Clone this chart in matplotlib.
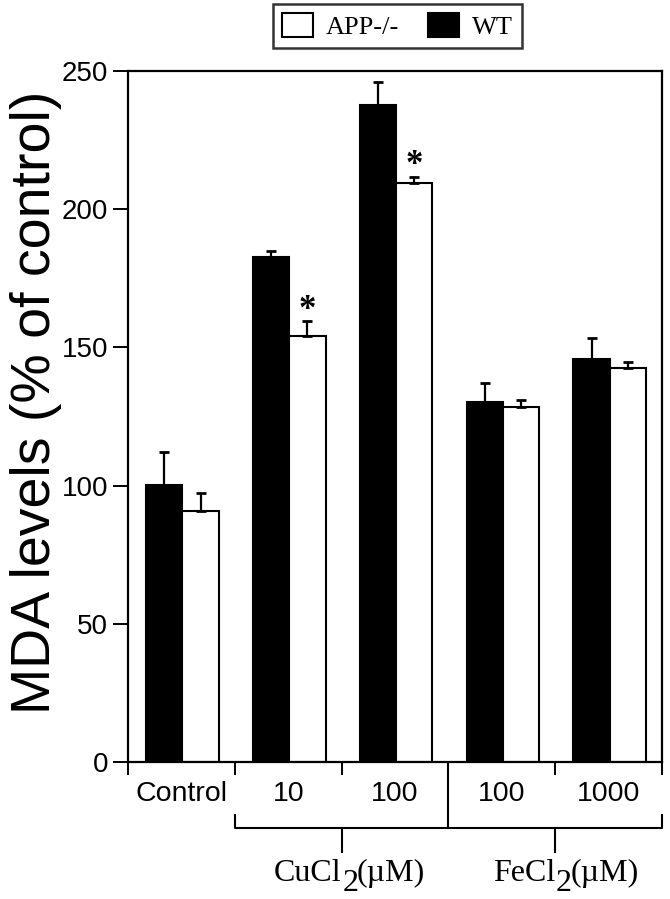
import matplotlib.pyplot as plt
from matplotlib.patches import Patch
from matplotlib.transforms import blended_transform_factory

plt.rcParams['font.family'] = ['Liberation Sans', 'DejaVu Sans']

# MDA levels, % of control
groups = ['Control', '10', '100', '100', '1000']
wt = [100.2, 182.8, 237.8, 130.3, 145.9]
wt_err = [12.0, 2.1, 8.1, 6.9, 7.6]
app = [90.7, 154.3, 209.3, 128.4, 142.4]
app_err = [6.5, 5.2, 2.4, 2.5, 2.4]
significant = [False, True, True, False, False]
salts = ['CuCl', 'FeCl']

SERIF = ['Liberation Serif', 'DejaVu Serif']
W = 0.34
x = list(range(len(groups)))
x_wt = [i - 0.33 + W / 2 for i in x]
x_app = [i + 0.01 + W / 2 for i in x]

fig = plt.figure(figsize=(6.7, 8.99), dpi=100)
ax = fig.add_axes([128 / 670, 137 / 899, 534 / 670, 691 / 899])

ax.bar(x_wt, wt, width=W, color='black', edgecolor='black', linewidth=1.5, zorder=2)
ax.bar(x_app, app, width=W, color='white', edgecolor='black', linewidth=1.5, zorder=2)
ax.errorbar(x_wt, wt, yerr=[[0] * len(wt), wt_err], fmt='none', ecolor='black',
            elinewidth=1.6, capsize=3.8, capthick=2, zorder=3)
ax.errorbar(x_app, app, yerr=[[0] * len(app), app_err], fmt='none', ecolor='black',
            elinewidth=1.6, capsize=3.8, capthick=2, zorder=3)

for xi, v, e, s in zip(x_app, app, app_err, significant):
    if s:
        ax.annotate('*', (xi, v + e), xytext=(0, -4), textcoords='offset points',
                    ha='center', va='bottom', fontsize=25, fontweight='bold',
                    family=SERIF)

ax.set_xlim(-0.5, 4.5)
ax.set_ylim(0, 250)
ax.set_yticks([0, 50, 100, 150, 200, 250])
ax.tick_params(axis='y', direction='out', length=10.8, width=1.4, pad=3.6,
               labelsize=20)
ax.set_xticks([i - 0.5 for i in range(len(groups) + 1)])
ax.set_xticklabels([])
ax.set_xticks(x, minor=True)
ax.set_xticklabels(groups, minor=True)
ax.tick_params(axis='x', which='major', direction='out', length=9.4, width=1.4)
ax.tick_params(axis='x', which='minor', length=0, pad=14, labelsize=20.5)
for sp in ax.spines.values():
    sp.set_linewidth(1.6)

# bracket under the metal-salt groups
tr = blended_transform_factory(ax.transData, ax.transAxes)
lk = dict(color='black', lw=1.5, transform=tr, clip_on=False)
ax.plot([0.5, 0.5, 4.5, 4.5], [-0.0767, -0.0955, -0.0955, -0.0767], **lk)
ax.plot([2.5, 2.5], [0, -0.0955], **lk)
for cx, salt in zip([1.5, 3.5], salts):
    ax.plot([cx, cx], [-0.0955, -0.130], **lk)
    ax.annotate(salt, (cx, -0.172), xycoords=tr, ha='right', va='baseline',
                fontsize=23, family=SERIF, annotation_clip=False)
    ax.annotate('2', (cx, -0.172), xycoords=tr, xytext=(0.5, -7),
                textcoords='offset points', ha='left', va='baseline',
                fontsize=23, family=SERIF, annotation_clip=False)
    ax.annotate('(µM)', (cx, -0.172), xycoords=tr, xytext=(11, 0),
                textcoords='offset points', ha='left', va='baseline',
                fontsize=23, family=SERIF, annotation_clip=False)

fig.text(36 / 670, 1 - 402 / 899, 'MDA levels (% of control)', rotation=90,
         ha='center', va='center', fontsize=40)

handles = [Patch(facecolor='white', edgecolor='black', linewidth=1.5),
           Patch(facecolor='black', edgecolor='black', linewidth=1.5)]
leg = fig.legend(handles, ['APP-/-', 'WT'], ncol=2, loc='upper center',
                 bbox_to_anchor=(397.5 / 670, 1 - 4 / 899), frameon=True,
                 fancybox=False, prop={'family': SERIF, 'size': 19},
                 handlelength=1.15, handleheight=1.0, handletextpad=0.5,
                 columnspacing=1.1, borderpad=0.35, borderaxespad=0)
leg.get_frame().set_edgecolor('black')
leg.get_frame().set_linewidth(1.8)

fig.savefig('out.png', dpi=100)
